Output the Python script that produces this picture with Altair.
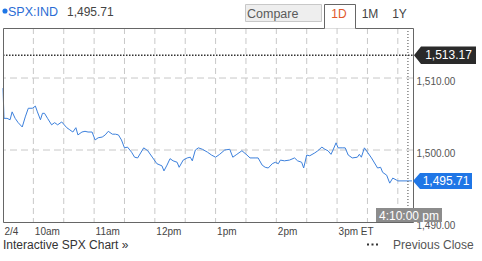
import altair as alt
import pandas as pd

# ---------------- data (minutes after 9:30 ET, index level) ----------------
minutes = [0, 1, 4, 7, 9, 12, 15, 19, 22, 25, 29, 32, 34, 37, 39, 41, 44, 48, 51, 54,
           58, 63, 66, 69, 72, 74, 78, 81, 84, 88, 91, 94, 98, 101, 104, 108, 111, 114,
           117, 120, 123, 127, 130, 133, 139, 143, 148, 152, 157, 159, 162, 165, 168,
           172, 174, 178, 182, 185, 187, 190, 193, 197, 202, 206, 210, 214, 219, 224,
           227, 231, 236, 241, 244, 249, 252, 256, 259, 262, 266, 269, 272, 274, 278,
           283, 288, 291, 295, 297, 300, 303, 308, 311, 315, 318, 321, 324, 326, 329,
           331, 335, 338, 341, 345, 350, 352, 354, 357, 360, 364, 367, 370, 373, 375,
           379, 382, 385, 389, 390, 404]
prices = [1508.6, 1504.4, 1504.4, 1504.2, 1505.3, 1504.4, 1503.8, 1503.2, 1504.6, 1505.8,
          1505.8, 1506.1, 1505.3, 1504.2, 1505.1, 1505.1, 1504.4, 1503.5, 1503.8, 1503.5,
          1503.9, 1503.1, 1502.8, 1502.5, 1503.1, 1502.1, 1502.5, 1502.6, 1502.5, 1502.5,
          1501.4, 1501.7, 1501.8, 1502.1, 1502.6, 1502.2, 1502.2, 1502.1, 1501.4, 1500.3,
          1500.4, 1499.7, 1499.0, 1498.9, 1500.3, 1499.9, 1498.9, 1498.1, 1497.8, 1497.1,
          1497.9, 1498.8, 1498.5, 1498.3, 1497.6, 1498.6, 1498.9, 1499.0, 1498.5, 1500.0,
          1500.3, 1500.1, 1499.7, 1499.3, 1499.0, 1499.4, 1500.0, 1500.1, 1499.0, 1499.4,
          1499.9, 1499.3, 1498.9, 1498.9, 1498.9, 1497.9, 1497.6, 1497.5, 1498.1, 1498.3,
          1498.1, 1498.6, 1498.5, 1498.6, 1498.9, 1498.5, 1498.3, 1497.5, 1499.3, 1499.2,
          1499.6, 1499.9, 1500.4, 1500.1, 1499.9, 1499.4, 1500.0, 1501.0, 1500.3, 1500.3,
          1500.3, 1499.3, 1498.9, 1499.0, 1499.4, 1499.0, 1500.3, 1499.7, 1498.9, 1498.2,
          1497.5, 1497.6, 1496.9, 1496.5, 1495.4, 1496.1, 1495.8, 1495.71, 1495.71]

time_ticks = [0, 30, 90, 150, 210, 270, 330]
time_tick_labels = ["2/4", "10am", "11am", "12pm", "1pm", "2pm", "3pm ET"]
grid_minutes = [30, 60, 90, 120, 150, 180, 210, 240, 270, 300, 330, 360, 390]
grid_prices = [1500, 1510]
price_ticks = [1490, 1500, 1510]
prev_close = 1513.17
last_price = 1495.71
stamp_minute = 400
symbol = "SPX:IND"
last_text = "1,495.71"
prev_text = "1,513.17"
stamp_text = "4:10:00 pm"
tabs = ["1D", "1M", "1Y"]

FONT = "Liberation Sans"
BLUE_LINE = "#3c80dc"
BLUE = "#1f76e6"
W, H = 410, 194

df = pd.DataFrame({"t": minutes, "p": prices})
gx = pd.DataFrame({"t": grid_minutes})
gy = pd.DataFrame({"p": grid_prices})
prev_df = pd.DataFrame({"p": [prev_close]})
last_df = pd.DataFrame({"p": [last_price]})
stamp_df = pd.DataFrame({"t": [stamp_minute]})
one = pd.DataFrame({"k": [0]})

xs = alt.Scale(domain=[0, 405], nice=False, zero=False)
ys = alt.Scale(domain=[1490, 1516.95], nice=False, zero=False)

expr = "''"
for v, lab in zip(reversed(time_ticks), reversed(time_tick_labels)):
    expr = f"datum.value == {v} ? '{lab}' : ({expr})"

X_AX = alt.Axis(values=time_ticks, labelExpr=expr, grid=False, ticks=False,
                domain=False, labelAlign="left", labelOffset=1, labelPadding=4,
                labelFontSize=10, labelColor="#444444", labelFont=FONT, title=None)
Y_AX = alt.Axis(orient="right", values=price_ticks, format=",.2f", grid=False,
                ticks=False, domain=False, labelPadding=3, labelOffset=3,
                labelFontSize=10, labelColor="#555555", labelFont=FONT,
                labelBaseline="middle", title=None)


def X(field="t"):
    return alt.X(f"{field}:Q", scale=xs, axis=X_AX)


def Y(field="p"):
    return alt.Y(f"{field}:Q", scale=ys, axis=Y_AX)


line = alt.Chart(df).mark_line(color=BLUE_LINE, strokeWidth=1).encode(x=X(), y=Y())

vgrid = alt.Chart(gx).mark_rule(color="#c8c8c8", strokeDash=[6, 4], strokeWidth=1).encode(x=X())
hgrid = alt.Chart(gy).mark_rule(color="#c8c8c8", strokeDash=[7, 4], strokeWidth=1).encode(y=Y())

prev_line = alt.Chart(prev_df).mark_rule(color="#333333", strokeDash=[1.5, 1.5], strokeWidth=1.5).encode(
    y=Y(), x=alt.value(0), x2=alt.value(W))
stamp_line = alt.Chart(stamp_df).mark_rule(color="#444444", strokeDash=[1, 2], strokeWidth=1).encode(
    x=X())


def seg(x1, y1, x2, y2, color="#666666"):
    return alt.Chart(one).mark_rule(color=color, strokeWidth=1).encode(
        x=alt.value(x1), x2=alt.value(x2), y=alt.value(y1), y2=alt.value(y2))


frame = [
    seg(0.5, 0.5, 321.5, 0.5), seg(352.5, 0.5, 410.5, 0.5),
    seg(0.5, 0.5, 0.5, 194.5), seg(410.5, 0.5, 410.5, 194.5),
    seg(0.5, 194.5, 410.5, 194.5),
    seg(321.5, -23.5, 321.5, 0.5), seg(321.5, -23.5, 352.5, -23.5), seg(352.5, -23.5, 352.5, 0.5),
]

compare_box = alt.Chart(one).mark_rect(fill="#eeeeee", stroke="#c8c8c8", strokeWidth=1).encode(
    x=alt.value(242.5), x2=alt.value(318.5), y=alt.value(-23.5), y2=alt.value(-6.5))
compare_txt = alt.Chart(one).mark_text(text="Compare", font=FONT, fontSize=12.5, color="#5a5a5a",
                                       align="left", baseline="middle").encode(
    x=alt.value(244), y=alt.value(-14.5))

tab_x = [336, 367, 396.5]
tab_col = ["#e0582a", "#444444", "#444444"]
tab_layers = [alt.Chart(one).mark_text(text=t, font=FONT, fontSize=12, color=c,
                                       align="center", baseline="middle").encode(
    x=alt.value(x), y=alt.value(-14.5)) for t, x, c in zip(tabs, tab_x, tab_col)]

dot = alt.Chart(one).mark_point(shape="circle", filled=True, size=26, color=BLUE, opacity=1).encode(
    x=alt.value(2), y=alt.value(-17))
sym_txt = alt.Chart(one).mark_text(text=symbol, font=FONT, fontSize=12.5, color="#2b6cd4",
                                   align="left", baseline="middle").encode(
    x=alt.value(5), y=alt.value(-16.5))
val_txt = alt.Chart(one).mark_text(text=last_text, font=FONT, fontSize=12, color="#444444",
                                   align="left", baseline="middle").encode(
    x=alt.value(64), y=alt.value(-16.5))

prev_badge = alt.Chart(prev_df).mark_point(
    shape="M0,0L0.875,-1.1L7.75,-1.1L7.75,1.1L0.875,1.1Z", filled=True, size=256,
    color="#2a2a2a", opacity=1, strokeWidth=0).encode(x=alt.value(411), y=Y())
prev_badge_txt = alt.Chart(prev_df).mark_text(text=prev_text, font=FONT, fontSize=12, color="white",
                                              align="center", baseline="middle").encode(
    x=alt.value(445.5), y=Y())

last_badge = alt.Chart(last_df).mark_point(
    shape="M0,0L0.875,-1L7.375,-1L7.375,1L0.875,1Z", filled=True, size=256,
    color=BLUE, opacity=1, strokeWidth=0).encode(x=alt.value(410), y=Y())
last_badge_txt = alt.Chart(last_df).mark_text(text=last_text, font=FONT, fontSize=12, color="white",
                                              align="center", baseline="middle").encode(
    x=alt.value(443), y=Y())

stamp_box = alt.Chart(one).mark_rect(fill="#8c8c8c").encode(
    x=alt.value(373), x2=alt.value(439), y=alt.value(180), y2=alt.value(194))
stamp_txt = alt.Chart(one).mark_text(text=stamp_text, font=FONT, fontSize=12, color="white",
                                     align="center", baseline="middle").encode(
    x=alt.value(406), y=alt.value(187.5))

footer_left = alt.Chart(one).mark_text(text="Interactive SPX Chart \u00bb", font=FONT, fontSize=12,
                                       color="#333333", align="left", baseline="middle").encode(
    x=alt.value(0), y=alt.value(217))
legend_dots = alt.Chart(one).mark_rule(color="#333333", strokeDash=[2, 2.5], strokeWidth=2).encode(
    x=alt.value(364), x2=alt.value(376), y=alt.value(216.5))
footer_right = alt.Chart(one).mark_text(text="Previous Close", font=FONT, fontSize=12,
                                        color="#555555", align="left", baseline="middle").encode(
    x=alt.value(390), y=alt.value(216.5))

chart = alt.layer(
    vgrid, hgrid, line, prev_line, stamp_line, *frame,
    compare_box, compare_txt, *tab_layers, dot, sym_txt, val_txt,
    prev_badge, prev_badge_txt, last_badge, last_badge_txt,
    stamp_box, stamp_txt, footer_left, legend_dots, footer_right,
).properties(
    width=W, height=H,
    padding={"left": 3, "top": 28, "right": 69, "bottom": 39},
    autosize=alt.AutoSizeParams(type="none"),
    background="white",
).configure_view(strokeWidth=0).configure(font=FONT)

chart.save("out.html", embed_options={"renderer": "svg", "actions": False})
